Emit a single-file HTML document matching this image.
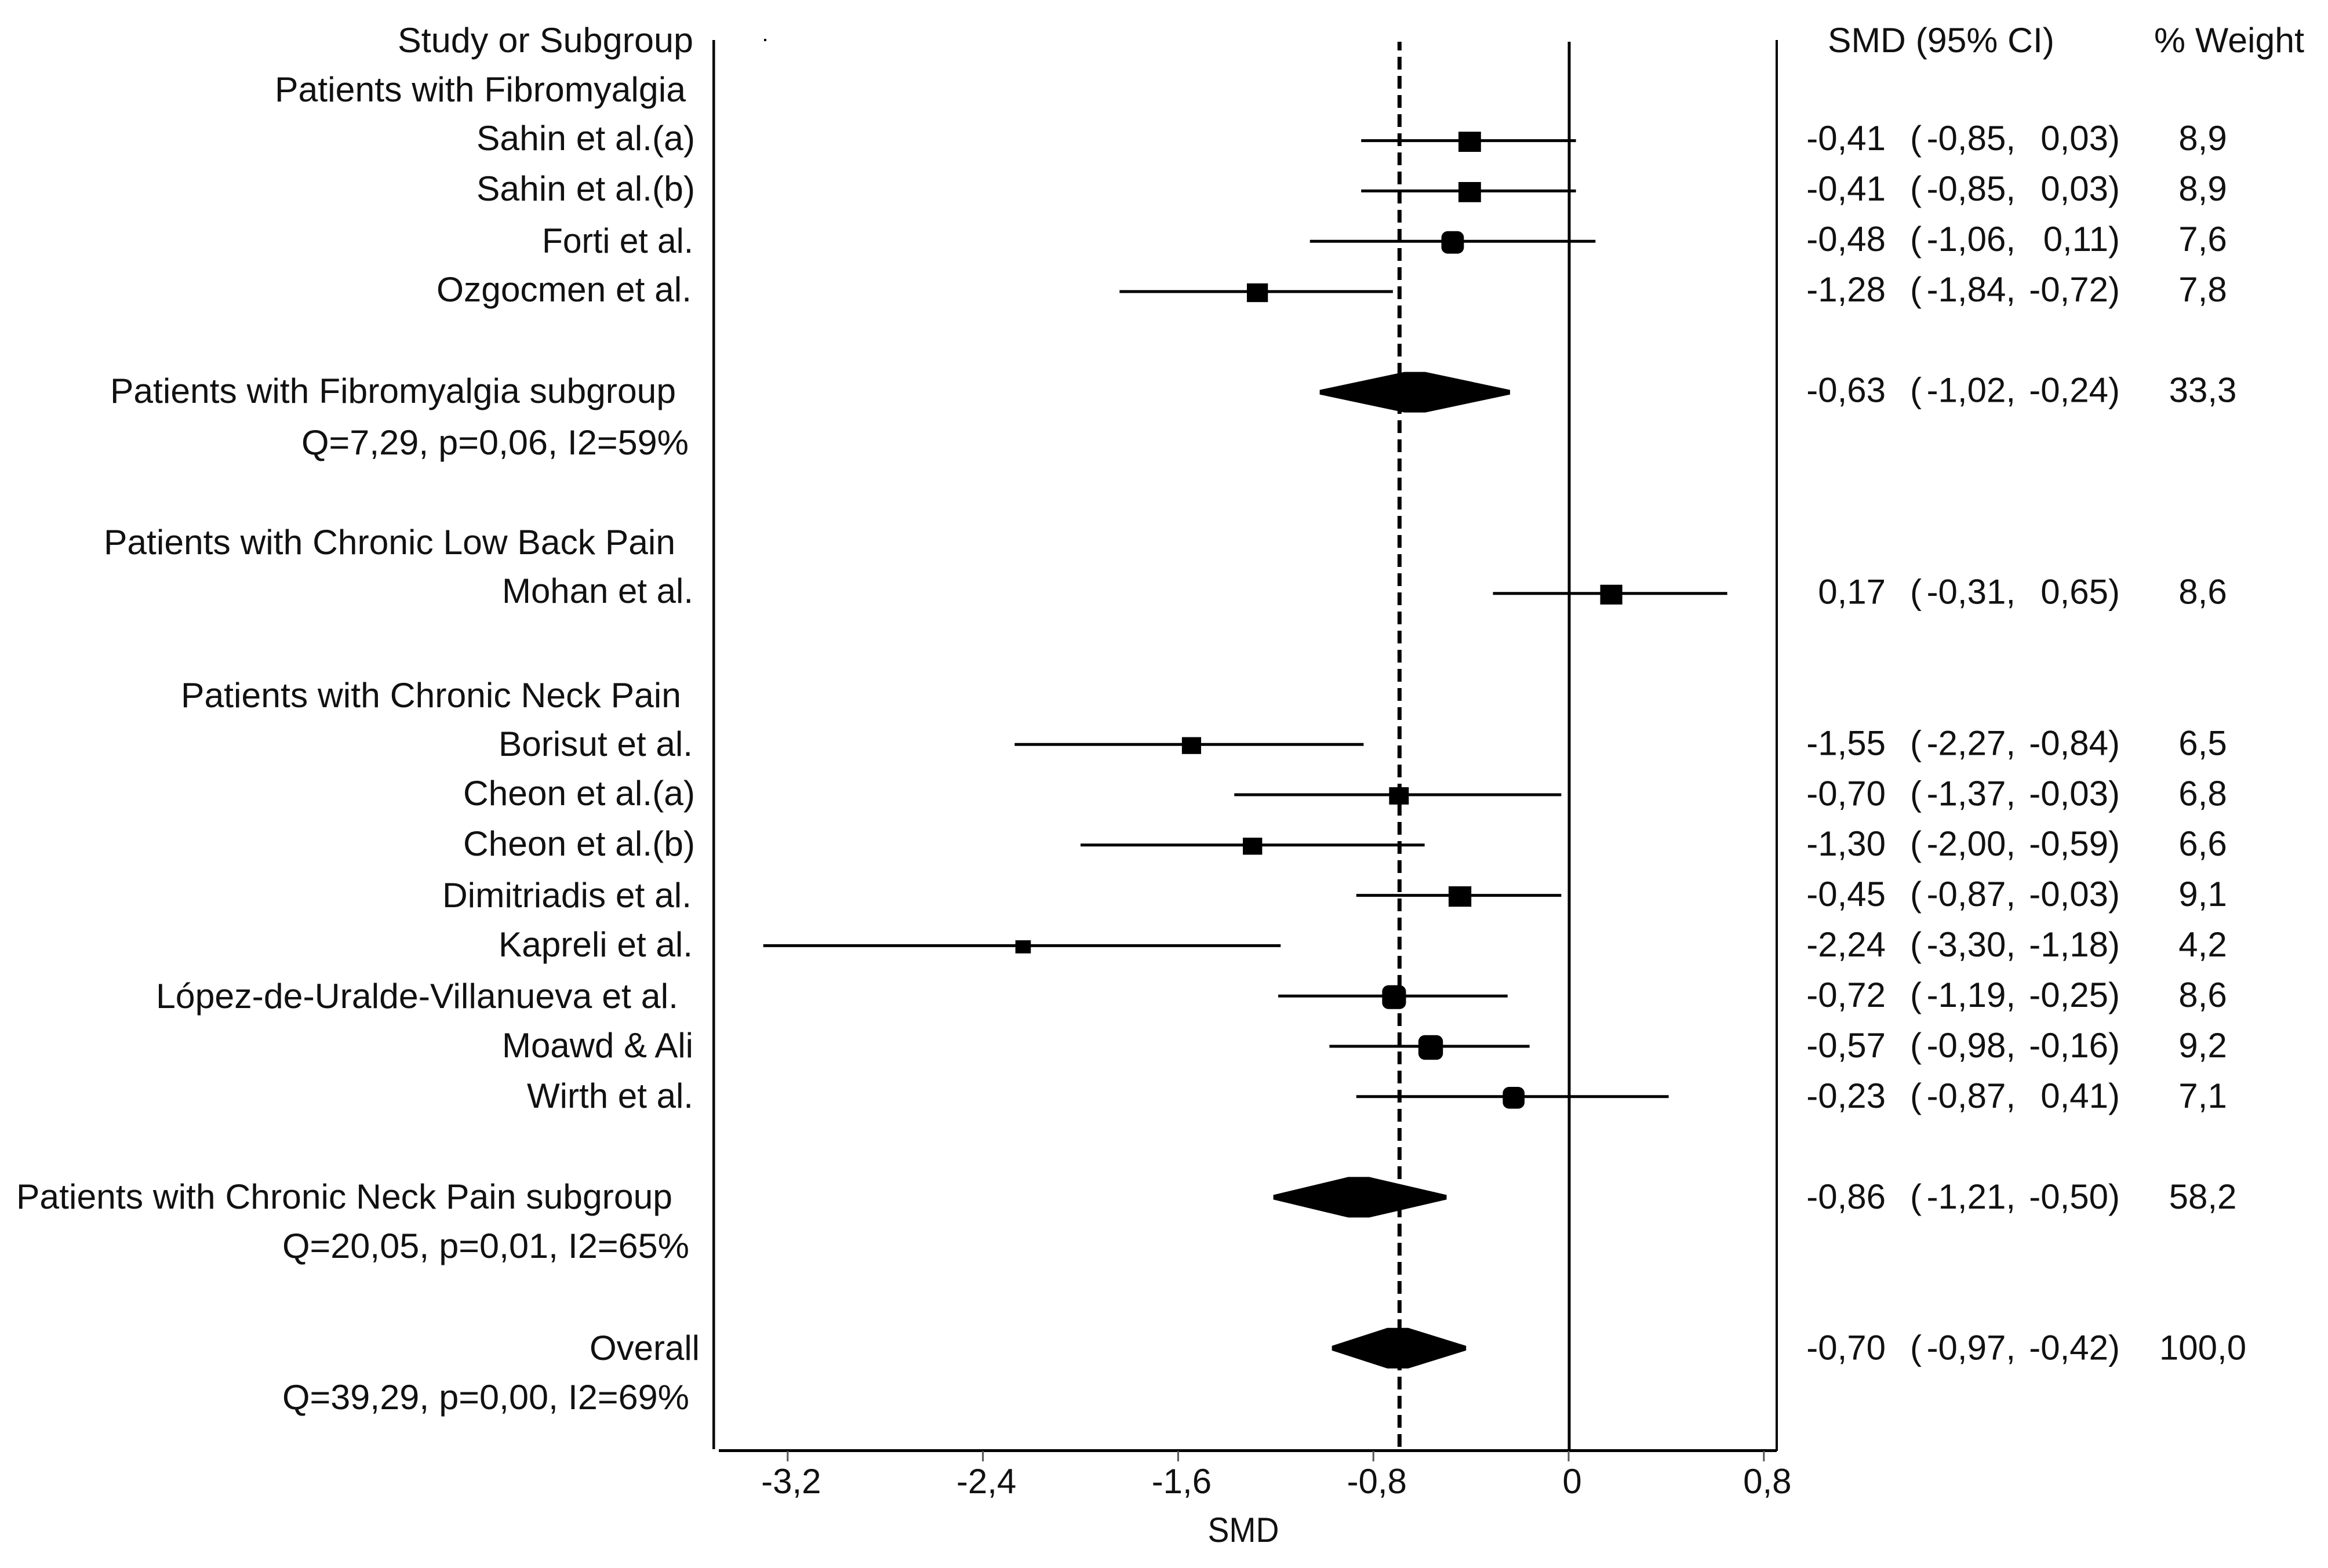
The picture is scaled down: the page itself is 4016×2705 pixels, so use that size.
<!DOCTYPE html>
<html lang="en">
<head>
<meta charset="utf-8">
<title>Forest plot of SMD by subgroup</title>
<style>
  html, body { margin: 0; padding: 0; background: #fff; }
  svg { display: block; }
  text { font-family: "Liberation Sans", Arial, sans-serif; font-size: 60px; fill: #111; }
</style>
</head>
<body>
<svg id="chart" xmlns="http://www.w3.org/2000/svg" width="4016" height="2705" viewBox="0 0 4016 2705">
  <rect x="0" y="0" width="4016" height="2705" fill="#fff"/>

  <g>
    <text x="686" y="90" textLength="510" lengthAdjust="spacingAndGlyphs">Study or Subgroup</text>
    <text x="474" y="175" textLength="709" lengthAdjust="spacingAndGlyphs">Patients with Fibromyalgia</text>
    <text x="822" y="259" textLength="377" lengthAdjust="spacingAndGlyphs">Sahin et al.(a)</text>
    <text x="822" y="346" textLength="377" lengthAdjust="spacingAndGlyphs">Sahin et al.(b)</text>
    <text x="935" y="436" textLength="261" lengthAdjust="spacingAndGlyphs">Forti et al.</text>
    <text x="753" y="520" textLength="440" lengthAdjust="spacingAndGlyphs">Ozgocmen et al.</text>
    <text x="190" y="695" textLength="976" lengthAdjust="spacingAndGlyphs">Patients with Fibromyalgia subgroup</text>
    <text x="520" y="784" textLength="668" lengthAdjust="spacingAndGlyphs">Q=7,29, p=0,06, I2=59%</text>
    <text x="179" y="956" textLength="986" lengthAdjust="spacingAndGlyphs">Patients with Chronic Low Back Pain</text>
    <text x="866" y="1040" textLength="330" lengthAdjust="spacingAndGlyphs">Mohan et al.</text>
    <text x="312" y="1220" textLength="863" lengthAdjust="spacingAndGlyphs">Patients with Chronic Neck Pain</text>
    <text x="860" y="1304" textLength="335" lengthAdjust="spacingAndGlyphs">Borisut et al.</text>
    <text x="799" y="1389" textLength="400" lengthAdjust="spacingAndGlyphs">Cheon et al.(a)</text>
    <text x="799" y="1476" textLength="400" lengthAdjust="spacingAndGlyphs">Cheon et al.(b)</text>
    <text x="763" y="1565" textLength="430" lengthAdjust="spacingAndGlyphs">Dimitriadis et al.</text>
    <text x="860" y="1650" textLength="335" lengthAdjust="spacingAndGlyphs">Kapreli et al.</text>
    <text x="269" y="1739" textLength="901" lengthAdjust="spacingAndGlyphs">López-de-Uralde-Villanueva et al.</text>
    <text x="866" y="1824" textLength="330" lengthAdjust="spacingAndGlyphs">Moawd &amp; Ali</text>
    <text x="909" y="1911" textLength="287" lengthAdjust="spacingAndGlyphs">Wirth et al.</text>
    <text x="28" y="2085" textLength="1132" lengthAdjust="spacingAndGlyphs">Patients with Chronic Neck Pain subgroup</text>
    <text x="487" y="2170" textLength="702" lengthAdjust="spacingAndGlyphs">Q=20,05, p=0,01, I2=65%</text>
    <text x="1017" y="2346" textLength="190" lengthAdjust="spacingAndGlyphs">Overall</text>
    <text x="487" y="2431" textLength="702" lengthAdjust="spacingAndGlyphs">Q=39,29, p=0,00, I2=69%</text>
  </g>

  <text x="3153" y="90" textLength="391" lengthAdjust="spacingAndGlyphs">SMD (95% CI)</text>
  <text x="3716" y="90" textLength="259" lengthAdjust="spacingAndGlyphs">% Weight</text>

  <rect x="1229" y="69" width="4.5" height="2431" fill="#000"/>
  <rect x="3063" y="69" width="4" height="2434" fill="#000"/>
  <rect x="1240" y="2500" width="1825" height="5" fill="#000"/>
  <rect x="1318" y="67" width="4" height="4" fill="#000"/>
  <text x="2145" y="2660" text-anchor="middle" textLength="123" lengthAdjust="spacingAndGlyphs">SMD</text>

  <g id="plot"></g>
  <g id="table"></g>
</svg>

<script>
// Chart data, one entry per table row (null where a row has no result).
const rowNames = ['Header','Fibromyalgia','Sahin a','Sahin b','Forti','Ozgocmen','','Fibromyalgia subgroup','Q fibromyalgia','','Low back pain','Mohan','','Neck pain','Borisut','Cheon a','Cheon b','Dimitriadis','Kapreli','Lopez-de-Uralde','Moawd Ali','Wirth','','Neck pain subgroup','Q neck','','Overall','Q overall'];
const rowKinds = [null,null,'square','square','circle','square',null,'diamond',null,null,null,'square',null,null,'square','square','square','square','square','circle','circle','circle',null,'diamond',null,null,'diamond',null];
const smd = [null,null,-0.41,-0.41,-0.48,-1.28,null,-0.63,null,null,null,0.17,null,null,-1.55,-0.70,-1.30,-0.45,-2.24,-0.72,-0.57,-0.23,null,-0.86,null,null,-0.70,null];
const ciLower = [null,null,-0.85,-0.85,-1.06,-1.84,null,-1.02,null,null,null,-0.31,null,null,-2.27,-1.37,-2.00,-0.87,-3.30,-1.19,-0.98,-0.87,null,-1.21,null,null,-0.97,null];
const ciUpper = [null,null,0.03,0.03,0.11,-0.72,null,-0.24,null,null,null,0.65,null,null,-0.84,-0.03,-0.59,-0.03,-1.18,-0.25,-0.16,0.41,null,-0.50,null,null,-0.42,null];
const weight = [null,null,8.9,8.9,7.6,7.8,null,33.3,null,null,null,8.6,null,null,6.5,6.8,6.6,9.1,4.2,8.6,9.2,7.1,null,58.2,null,null,100.0,null];
const overallEffect = -0.70;
const zeroEffect = 0;
const xTicks = [-3.2,-2.4,-1.6,-0.8,0,0.8];
const xTickLabels = ['-3,2','-2,4','-1,6','-0,8','0','0,8'];

// Axis functions
const xScale = v => 2706 + 421 * v;
const yScale = i => 69 + 86.8 * i;
const svgNS = 'http://www.w3.org/2000/svg';
const plot = document.getElementById('plot');
const table = document.getElementById('table');

function make(parent, tag, attrs) {
  const el = document.createElementNS(svgNS, tag);
  for (const k in attrs) el.setAttribute(k, attrs[k]);
  parent.appendChild(el);
  return el;
}
const fmt2 = v => v.toFixed(2).replace('.', ',');
const fmt1 = v => v.toFixed(1).replace('.', ',');
const slug = s => s.toLowerCase().replace(/\s+/g, '-');

// Reference lines
const zeroLine = make(plot, 'line', {x1: xScale(zeroEffect) + 1, x2: xScale(zeroEffect) + 1, y1: 72, y2: 2503, stroke: '#000', 'stroke-width': 5});



const overallLine = make(plot, 'line', {x1: xScale(overallEffect) + 3, x2: xScale(overallEffect) + 3, y1: 72, y2: 2503, stroke: '#000', 'stroke-width': 7, 'stroke-dasharray': '22 11', 'stroke-dashoffset': 7});



// X axis ticks and labels
xTicks.forEach((t, i) => {
  const tick = make(plot, 'line', {x1: xScale(t), x2: xScale(t), y1: 2503, y2: 2521, stroke: '#555', 'stroke-width': 3});
  
  
  const label = make(plot, 'text', {x: xScale(t) + 6, y: 2576, 'text-anchor': 'middle'});
  label.textContent = xTickLabels[i];
  
  
});

// Marks and result columns
rowKinds.forEach((kind, i) => {
  if (!kind) return;
  const name = slug(rowNames[i]);
  const y = yScale(i);
  const base = y + 16 + i * 0.15;

  if (kind === 'diamond') {
    const l = xScale(ciLower[i]), r = xScale(ciUpper[i]), c = xScale(smd[i]);
    const h = 35, flat = 18, tip = 4;
    const d = make(plot, 'polygon', {
      points: [[l, y - tip], [c - flat, y - h], [c + flat, y - h], [r, y - tip], [r, y + tip], [c + flat, y + h], [c - flat, y + h], [l, y + tip]].map(p => p.join(',')).join(' '),
      fill: '#000'
    });
    
    
  } else {
    const ci = make(plot, 'line', {x1: xScale(ciLower[i]), x2: xScale(ciUpper[i]), y1: y, y2: y, stroke: '#000', 'stroke-width': 5});
    
    
    const cx = xScale(smd[i]) + 2;
    const cy = y + 2;
    let w, h, rx;
    if (kind === 'circle') {
      w = 13 * Math.sqrt(weight[i]) + 3;
      h = w;
      rx = 11;
    } else {
      w = 13 * Math.sqrt(weight[i]);
      h = w - 4;
      rx = 0;
    }
    const m = make(plot, 'rect', {x: cx - w / 2, y: cy - h / 2, width: w, height: h, rx: rx, fill: '#000'});
    
    
  }

  const smdText = make(table, 'text', {x: 3253, y: base, 'text-anchor': 'end'});
  smdText.textContent = fmt2(smd[i]);
  
  

  const open = make(table, 'text', {x: 3295, y: base});
  open.textContent = '(';
  
  

  const low = make(table, 'text', {x: 3477, y: base, 'text-anchor': 'end'});
  low.textContent = fmt2(ciLower[i]) + ',';
  
  

  const up = make(table, 'text', {x: 3657, y: base, 'text-anchor': 'end'});
  up.textContent = fmt2(ciUpper[i]) + ')';
  
  

  const w2 = make(table, 'text', {x: 3800, y: base, 'text-anchor': 'middle'});
  w2.textContent = fmt1(weight[i]);
  
  
});
</script>
</body>
</html>
